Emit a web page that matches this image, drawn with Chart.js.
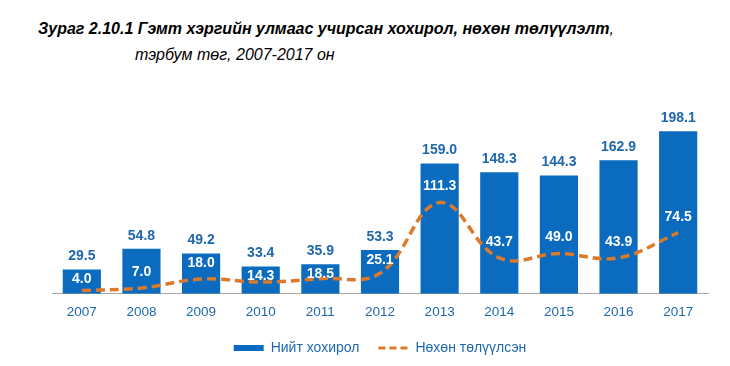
<!DOCTYPE html>
<html>
<head>
<meta charset="utf-8">
<script src="https://cdn.jsdelivr.net/npm/chart.js@4.4.1/dist/chart.umd.min.js"></script>
<style>
html,body{margin:0;padding:0;background:#fff;width:730px;height:366px;overflow:hidden;}
#t1{position:absolute;left:38px;top:20px;font:italic bold 16px "Liberation Sans",Arial,sans-serif;color:#000;white-space:nowrap;}
#t1 span{font-weight:normal;}
#t2{position:absolute;left:135px;top:46px;font:italic 16px "Liberation Sans",Arial,sans-serif;color:#000;white-space:nowrap;}
#wrap{position:absolute;left:0;top:0;width:730px;height:366px;}
</style>
</head>
<body>
<div id="t1">Зураг 2.10.1 Гэмт хэргийн улмаас учирсан хохирол, нөхөн төлүүлэлт<span>,</span></div>
<div id="t2">тэрбум төг, 2007-2017 он</div>
<div id="wrap"><canvas id="c" width="730" height="366"></canvas></div>
<script>
const years = ["2007","2008","2009","2010","2011","2012","2013","2014","2015","2016","2017"];
const totalLoss = [29.5, 54.8, 49.2, 33.4, 35.9, 53.3, 159.0, 148.3, 144.3, 162.9, 198.1];
const compensation = [4.0, 7.0, 18.0, 14.3, 18.5, 25.1, 111.3, 43.7, 49.0, 43.9, 74.5];
const seriesNames = ["Нийт хохирол", "Нөхөн төлүүлсэн"];

const BLUE = "#0A6BBF";
const ORANGE = "#DA7A2C";
const TEXTBLUE = "#1F68AE";
const FONT = "'Liberation Sans', Arial, sans-serif";

const labelPlugin = {
  id: "valueLabels",
  afterDatasetsDraw(chart) {
    const ctx = chart.ctx;
    const barMeta = chart.getDatasetMeta(0);
    const lineMeta = chart.getDatasetMeta(1);
    const base = chart.scales.y.getPixelForValue(0);
    ctx.save();
    ctx.textAlign = "center";
    ctx.textBaseline = "middle";
    ctx.font = "bold 14px " + FONT;
    barMeta.data.forEach((bar, i) => {
      ctx.fillStyle = TEXTBLUE;
      ctx.fillText(totalLoss[i].toFixed(1), bar.x, bar.y - 13);
    });
    lineMeta.data.forEach((pt, i) => {
      const bar = barMeta.data[i];
      let y = pt.y - 16;
      y = Math.max(y, bar.y + 10);
      y = Math.min(y, base - 9);
      ctx.fillStyle = "#ffffff";
      ctx.fillText(compensation[i].toFixed(1), bar.x, y);
    });
    ctx.restore();
  }
};

new Chart(document.getElementById("c"), {
  data: {
    labels: years,
    datasets: [
      {
        type: "bar",
        label: seriesNames[0],
        data: totalLoss,
        backgroundColor: BLUE,
        categoryPercentage: 1,
        barPercentage: 0.64,
        order: 2
      },
      {
        type: "line",
        label: seriesNames[1],
        data: compensation,
        borderColor: ORANGE,
        borderWidth: 3.5,
        borderDash: [9, 5],
        tension: 0.4,
        pointRadius: 0,
        fill: false,
        order: 1
      }
    ]
  },
  options: {
    responsive: false,
    animation: false,
    layout: { padding: { left: 52, right: 22, top: 97, bottom: 1 } },
    scales: {
      x: {
        grid: { display: false },
        border: { display: true, color: "#A6A6A6", width: 1 },
        ticks: { color: TEXTBLUE, font: { family: FONT, size: 13.5 }, padding: 2 }
      },
      y: {
        display: false,
        min: 0,
        max: 240
      }
    },
    plugins: {
      tooltip: { enabled: false },
      legend: {
        position: "bottom",
        labels: {
          usePointStyle: true,
          pointStyleWidth: 30,
          boxHeight: 6,
          padding: 19,
          color: TEXTBLUE,
          font: { family: FONT, size: 14 },
          generateLabels(chart) {
            return [
              { text: seriesNames[0], fillStyle: BLUE, strokeStyle: BLUE, lineWidth: 0, pointStyle: "rect", datasetIndex: 0, fontColor: TEXTBLUE },
              { text: seriesNames[1], fillStyle: "rgba(0,0,0,0)", strokeStyle: ORANGE, lineWidth: 3, lineDash: [7, 4], pointStyle: "line", datasetIndex: 1, fontColor: TEXTBLUE }
            ];
          }
        }
      }
    }
  },
  plugins: [labelPlugin]
});
</script>
</body>
</html>
